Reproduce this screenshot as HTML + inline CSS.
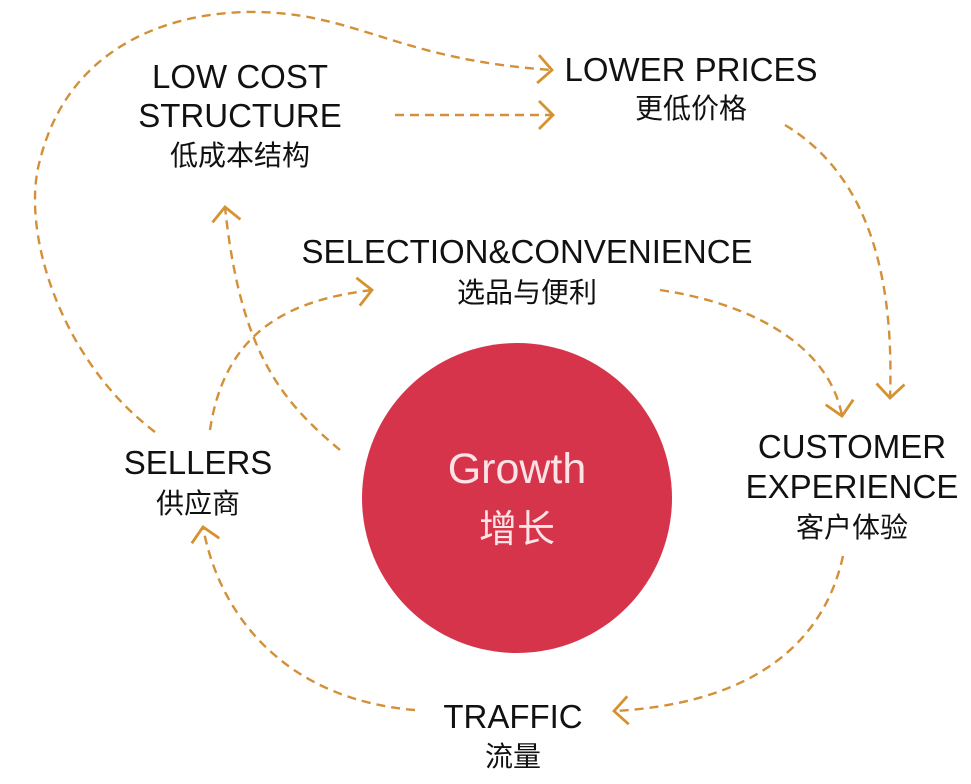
<!DOCTYPE html>
<html><head><meta charset="utf-8"><style>
html,body{margin:0;padding:0;background:#fff;}
svg{display:block}
text{font-family:"Liberation Sans","Noto Sans CJK SC",sans-serif;fill:#111;text-anchor:middle}
.en{font-size:33px}
.zh{font-size:28px}
</style></head><body>
<svg width="971" height="784" viewBox="0 0 971 784" xmlns="http://www.w3.org/2000/svg">
<defs>
<marker id="a" viewBox="0 0 24 32" refX="20" refY="16" markerWidth="24" markerHeight="32" markerUnits="userSpaceOnUse" orient="auto">
<path d="M6 2 L20 16 L6 30" fill="none" stroke="#d6922e" stroke-width="2.8"/>
</marker>
</defs>
<circle cx="517" cy="498" r="155" fill="#d5344b"/>
<g fill="none" stroke="#d39038" stroke-width="2.4" stroke-dasharray="9 6" marker-end="url(#a)">
<path d="M155 432 C60 360 20 230 40 160 C70 40 180 10 260 12 C360 15 400 60 552 70"/>
<path d="M395 115 L553 115"/>
<path d="M785 125 C860 170 895 260 890 398"/>
<path d="M660 290 C760 305 830 350 842 416"/>
<path d="M843 556 C820 660 730 705 614 711"/>
<path d="M415 710 C290 700 220 620 203 527"/>
<path d="M210 430 C225 330 290 300 372 290"/>
<path d="M340 450 C280 400 240 350 225 207"/>
</g>
<text class="en" x="240" y="88">LOW COST</text>
<text class="en" x="240" y="127">STRUCTURE</text>
<text class="zh" x="240" y="165">低成本结构</text>
<text class="en" x="691" y="81">LOWER PRICES</text>
<text class="zh" x="691" y="118">更低价格</text>
<text class="en" x="527" y="263">SELECTION&amp;CONVENIENCE</text>
<text class="zh" x="527" y="302">选品与便利</text>
<text class="en" x="852" y="458">CUSTOMER</text>
<text class="en" x="852" y="498">EXPERIENCE</text>
<text class="zh" x="852" y="537">客户体验</text>
<text class="en" x="198" y="474">SELLERS</text>
<text class="zh" x="198" y="513">供应商</text>
<text class="en" x="513" y="728">TRAFFIC</text>
<text class="zh" x="513" y="766">流量</text>
<text x="517" y="483" style="font-size:43px;fill:#fbe3e6">Growth</text>
<text x="517" y="542" style="font-size:38px;fill:#fbe3e6">增长</text>
</svg>
</body></html>
